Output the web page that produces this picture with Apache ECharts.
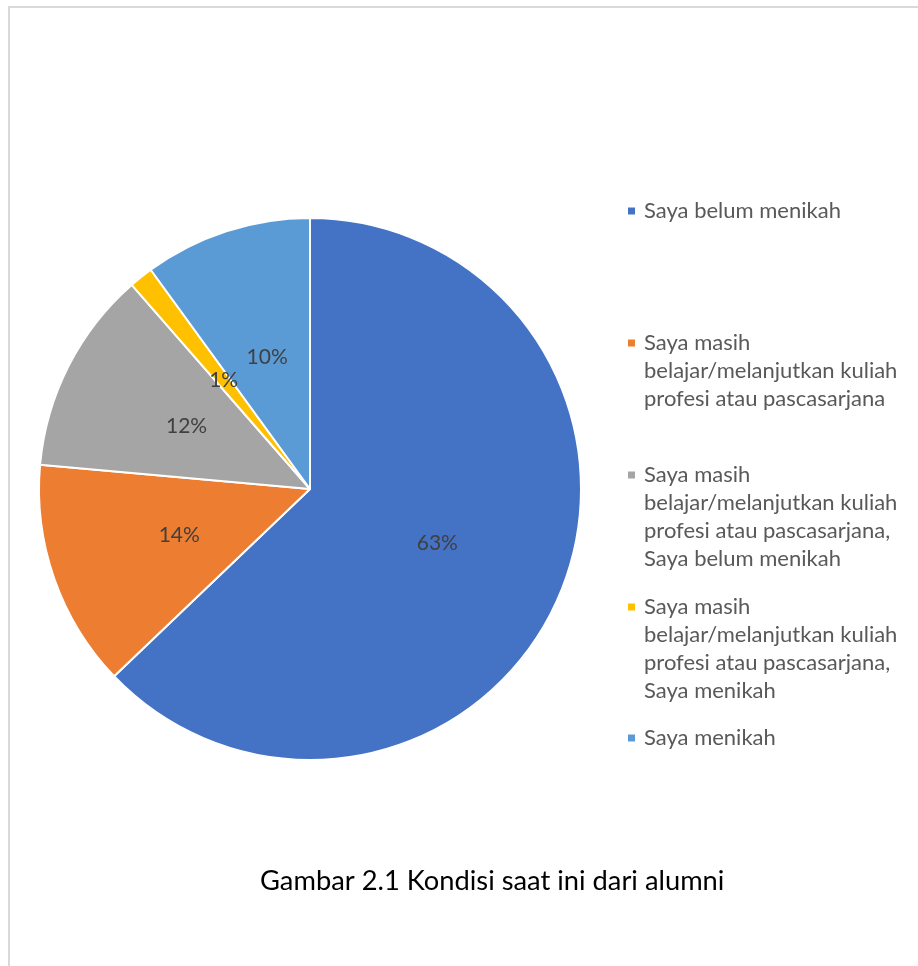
<!DOCTYPE html>
<html>
<head>
<meta charset="utf-8">
<title>Kondisi saat ini dari alumni</title>
<script src="https://cdn.jsdelivr.net/npm/echarts@6/dist/echarts.min.js"></script>
<style>
  html, body { margin: 0; padding: 0; background: #fff; }
  #chart { width: 918px; height: 966px; }
</style>
</head>
<body>
<div id="chart"></div>
<script>
// kategori (urutan searah jarum jam dari atas)
const categories = [
  'Saya belum menikah',
  'Saya masih belajar/melanjutkan kuliah profesi atau pascasarjana',
  'Saya masih belajar/melanjutkan kuliah profesi atau pascasarjana, Saya belum menikah',
  'Saya masih belajar/melanjutkan kuliah profesi atau pascasarjana, Saya menikah',
  'Saya menikah'
]
// jumlah responden (perkiraan dari sudut irisan)
const counts = [88, 19, 17, 2, 14]
const colors = ['#4472C4', '#ED7D31', '#A5A5A5', '#FFC000', '#5B9BD5']
const captionText = 'Gambar 2.1 Kondisi saat ini dari alumni'

// posisi legend (baris pertama tiap item)
const legendTops = [197, 329, 461, 593, 724]
const lineH = 28
const fontFamily = 'Lato, "Liberation Sans", sans-serif'

// bungkus teks legend per kata
const wrap = (s, max) => {
  const words = s.split(' ')
  const lines = []
  let cur = ''
  words.forEach(w => {
    if (cur && (cur + ' ' + w).length > max) {
      lines.push(cur)
      cur = w
    } else {
      cur = cur ? cur + ' ' + w : w
    }
  })
  if (cur) lines.push(cur)
  return lines
}

const rich = {
  t: { color: '#595959', fontSize: 22, fontFamily, lineHeight: lineH },
  g: { width: 9, height: 7 },
  s: { width: 16, height: 7 }
}
colors.forEach((c, i) => {
  rich['m' + i] = { width: 7, height: 7, backgroundColor: c }
})

const legends = categories.map((name, i) => ({
  data: [name],
  top: legendTops[i],
  left: 622,
  padding: 0,
  orient: 'vertical',
  itemWidth: 0,
  itemHeight: 0,
  selectedMode: false,
  textStyle: { color: '#595959', fontSize: 22, fontFamily, lineHeight: lineH, rich },
  formatter: n => {
    const idx = categories.indexOf(n)
    return wrap(n, 26).map((line, k) =>
      (k === 0 ? `{m${idx}|}{g|}` : '{s|}') + `{t|${line}}`
    ).join('\n')
  }
}))

const chart = echarts.init(document.getElementById('chart'))
chart.setOption({
  animation: false,
  color: colors,
  graphic: [
    { type: 'line', shape: { x1: 8, y1: 7, x2: 918, y2: 7 }, style: { stroke: '#d9d9d9', lineWidth: 2 } },
    { type: 'line', shape: { x1: 9, y1: 6, x2: 9, y2: 966 }, style: { stroke: '#d9d9d9', lineWidth: 2 } }
  ],
  title: {
    text: captionText,
    left: 260,
    top: 868,
    padding: 0,
    textStyle: { color: '#000', fontSize: 27.3, fontWeight: 'normal', fontFamily }
  },
  legend: legends,
  series: [
    {
      type: 'pie',
      center: [310, 489],
      radius: 271,
      startAngle: 90,
      clockwise: true,
      avoidLabelOverlap: false,
      itemStyle: { borderColor: '#fff', borderWidth: 2 },
      label: {
        show: true,
        position: 'inside',
        color: '#404040',
        fontSize: 21,
        fontFamily,
        formatter: p => Math.round(p.percent) + '%'
      },
      labelLine: { show: false },
      emphasis: { disabled: true },
      data: categories.map((name, i) => ({ name, value: counts[i] }))
    }
  ]
})
</script>
</body>
</html>
